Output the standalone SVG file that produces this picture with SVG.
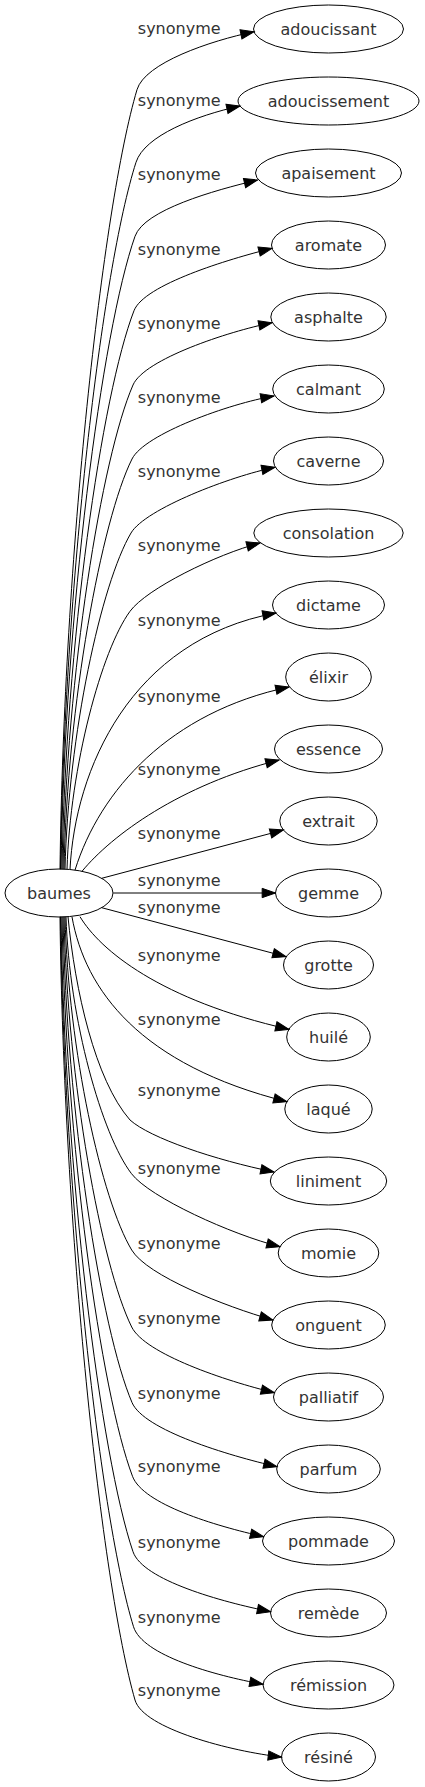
<svg xmlns="http://www.w3.org/2000/svg" width="425" height="1787" viewBox="0 0 425 1787">
<style>
.n ellipse{fill:none;stroke:#000;stroke-width:1}
.n text,.lbl{font-family:"DejaVu Sans",sans-serif;font-size:16px;fill:#333;text-anchor:middle}
.e{fill:none;stroke:#000;stroke-width:1;marker-end:url(#ah)}
</style>
<defs>
<marker id="ah" markerUnits="userSpaceOnUse" markerWidth="16" markerHeight="12" refX="13.33" refY="6" orient="auto" overflow="visible">
<path d="M0,1.33 L13.33,6 L0,10.67 z" fill="#000" stroke="#000" stroke-width="1"/>
</marker>
</defs>
<rect width="425" height="1787" fill="#fff"/>
<g id="connectors">
<path class="e" d="M60,869.2 C63.85,557.4 102.35,206.6 137,89.7 C144.95,62.85 209.96,40.95 254,31.7"/>
<path class="e" d="M60.5,869.2 C64.28,586.4 102.02,268.3 136,162.3 C144.55,135.63 196.05,115.67 240,106"/>
<path class="e" d="M61,869.2 C64.7,616 101.7,331.2 135,236.3 C144.27,209.9 213.74,190.5 257.5,180"/>
<path class="e" d="M62,869.2 C65.6,645.8 101.6,394.5 134,310.7 C144.1,284.6 228.35,259.2 272,248.3"/>
<path class="e" d="M63,869.2 C66.5,675.5 101.5,457.6 133,385 C144.14,359.31 227.87,331.53 272,322.7"/>
<path class="e" d="M64,869.2 C67.4,705.1 101.4,520.5 132,459 C144.47,433.93 229.64,403.54 274,396"/>
<path class="e" d="M65,869.2 C68.3,734.7 101.3,583.4 131,533 C145.2,508.9 230.87,476.13 275,467.3"/>
<path class="e" d="M67,869.2 C70.15,766 101.65,650 130,611.3 C146.55,588.7 216.45,554.32 260,543"/>
<path class="e" d="M70,869.5 C75,770 130,640 276,613"/>
<path class="e" d="M75,870.1 C100,790 170,712 289,687"/>
<path class="e" d="M82,871.3 C112,835 180,785 279,760"/>
<path class="e" d="M101.7,878.3 L283.4,830"/>
<path class="e" d="M113.3,893 L275.5,893"/>
<path class="e" d="M101.7,907.7 L286,956.7"/>
<path class="e" d="M80,916.7 C100,950 160,1000 288.9,1029.3"/>
<path class="e" d="M72,916.9 C85,990 140,1065 286.9,1101.7"/>
<path class="e" d="M68,916.8 C75,990 95,1080 130,1120 C150,1138 215,1160 274,1172"/>
<path class="e" d="M66,916.8 C69.28,1019.56 102.02,1135.16 131.5,1173.7 C149.73,1197.53 231.5,1234.57 280,1246.7"/>
<path class="e" d="M65,916.8 C68.34,1050.08 101.68,1200.02 131.7,1250 C147.15,1275.72 224.81,1306.3 272.9,1320"/>
<path class="e" d="M64,916.8 C67.39,1080.88 101.23,1265.47 131.7,1327 C145.01,1353.89 225.78,1381.03 274.4,1392.7"/>
<path class="e" d="M63,916.8 C66.45,1111.08 100.95,1329.64 132,1402.5 C143.76,1430.1 228.27,1455.49 277,1466.7"/>
<path class="e" d="M62,916.8 C65.53,1140.6 100.77,1392.37 132.5,1476.3 C143.11,1504.36 214.82,1525.72 263.6,1536.7"/>
<path class="e" d="M61,916.8 C64.6,1170.76 100.6,1456.46 133,1551.7 C142.66,1580.1 221.57,1601.89 270.6,1611.7"/>
<path class="e" d="M60.5,916.8 C64.15,1200.76 100.65,1520.21 133.5,1626.7 C142.34,1655.37 213.83,1675.2 263,1684.3"/>
<path class="e" d="M60,916.8 C63.75,1230.08 101.25,1582.52 135,1700 C143.28,1728.83 231.8,1751.53 281.5,1757"/>
<text class="lbl" x="179.2" y="33.7">synonyme</text>
<text class="lbl" x="179.2" y="106.3">synonyme</text>
<text class="lbl" x="179.2" y="180.3">synonyme</text>
<text class="lbl" x="179.2" y="254.7">synonyme</text>
<text class="lbl" x="179.2" y="329">synonyme</text>
<text class="lbl" x="179.2" y="403">synonyme</text>
<text class="lbl" x="179.2" y="477">synonyme</text>
<text class="lbl" x="179.2" y="551.3">synonyme</text>
<text class="lbl" x="179.2" y="626.3">synonyme</text>
<text class="lbl" x="179.2" y="702">synonyme</text>
<text class="lbl" x="179.2" y="775.3">synonyme</text>
<text class="lbl" x="179.2" y="839">synonyme</text>
<text class="lbl" x="179.2" y="885.7">synonyme</text>
<text class="lbl" x="179.2" y="913">synonyme</text>
<text class="lbl" x="179.2" y="961.3">synonyme</text>
<text class="lbl" x="179.2" y="1025.3">synonyme</text>
<text class="lbl" x="179.2" y="1096.3">synonyme</text>
<text class="lbl" x="179.2" y="1173.7">synonyme</text>
<text class="lbl" x="179.2" y="1249">synonyme</text>
<text class="lbl" x="179.2" y="1324">synonyme</text>
<text class="lbl" x="179.2" y="1399">synonyme</text>
<text class="lbl" x="179.2" y="1472.3">synonyme</text>
<text class="lbl" x="179.2" y="1548">synonyme</text>
<text class="lbl" x="179.2" y="1623">synonyme</text>
<text class="lbl" x="179.2" y="1696.3">synonyme</text>
</g>
<g id="baumes" class="n"><ellipse cx="59" cy="893" rx="54" ry="24"/><text x="59" y="898.6">baumes</text></g>
<g id="adoucissant" class="n"><ellipse cx="328.5" cy="29" rx="75" ry="24"/><text x="328.5" y="34.6">adoucissant</text></g>
<g id="adoucissement" class="n"><ellipse cx="328.5" cy="101" rx="90.5" ry="24"/><text x="328.5" y="106.6">adoucissement</text></g>
<g id="apaisement" class="n"><ellipse cx="328.5" cy="173" rx="73" ry="24"/><text x="328.5" y="178.6">apaisement</text></g>
<g id="aromate" class="n"><ellipse cx="328.5" cy="245" rx="57" ry="24"/><text x="328.5" y="250.6">aromate</text></g>
<g id="asphalte" class="n"><ellipse cx="328.5" cy="317" rx="57.7" ry="24"/><text x="328.5" y="322.6">asphalte</text></g>
<g id="calmant" class="n"><ellipse cx="328.5" cy="389" rx="55.8" ry="24"/><text x="328.5" y="394.6">calmant</text></g>
<g id="caverne" class="n"><ellipse cx="328.5" cy="461" rx="55" ry="24"/><text x="328.5" y="466.6">caverne</text></g>
<g id="consolation" class="n"><ellipse cx="328.5" cy="533" rx="74.7" ry="24"/><text x="328.5" y="538.6">consolation</text></g>
<g id="dictame" class="n"><ellipse cx="328.5" cy="605" rx="56" ry="24"/><text x="328.5" y="610.6">dictame</text></g>
<g id="elixir" class="n"><ellipse cx="328.5" cy="677" rx="42.8" ry="24"/><text x="328.5" y="682.6">élixir</text></g>
<g id="essence" class="n"><ellipse cx="328.5" cy="749" rx="54" ry="24"/><text x="328.5" y="754.6">essence</text></g>
<g id="extrait" class="n"><ellipse cx="328.5" cy="821" rx="48.7" ry="24"/><text x="328.5" y="826.6">extrait</text></g>
<g id="gemme" class="n"><ellipse cx="328.5" cy="893" rx="53" ry="24"/><text x="328.5" y="898.6">gemme</text></g>
<g id="grotte" class="n"><ellipse cx="328.5" cy="965" rx="45" ry="24"/><text x="328.5" y="970.6">grotte</text></g>
<g id="huile" class="n"><ellipse cx="328.5" cy="1037" rx="41.8" ry="24"/><text x="328.5" y="1042.6">huilé</text></g>
<g id="laque" class="n"><ellipse cx="328.5" cy="1109" rx="43.7" ry="24"/><text x="328.5" y="1114.6">laqué</text></g>
<g id="liniment" class="n"><ellipse cx="328.5" cy="1181" rx="58.2" ry="24"/><text x="328.5" y="1186.6">liniment</text></g>
<g id="momie" class="n"><ellipse cx="328.5" cy="1253" rx="50.3" ry="24"/><text x="328.5" y="1258.6">momie</text></g>
<g id="onguent" class="n"><ellipse cx="328.5" cy="1325" rx="56.8" ry="24"/><text x="328.5" y="1330.6">onguent</text></g>
<g id="palliatif" class="n"><ellipse cx="328.5" cy="1397" rx="55" ry="24"/><text x="328.5" y="1402.6">palliatif</text></g>
<g id="parfum" class="n"><ellipse cx="328.5" cy="1469" rx="51.8" ry="24"/><text x="328.5" y="1474.6">parfum</text></g>
<g id="pommade" class="n"><ellipse cx="328.5" cy="1541" rx="66" ry="24"/><text x="328.5" y="1546.6">pommade</text></g>
<g id="remede" class="n"><ellipse cx="328.5" cy="1613" rx="58" ry="24"/><text x="328.5" y="1618.6">remède</text></g>
<g id="remission" class="n"><ellipse cx="328.5" cy="1685" rx="65.5" ry="24"/><text x="328.5" y="1690.6">rémission</text></g>
<g id="resine" class="n"><ellipse cx="328.5" cy="1757" rx="47" ry="24"/><text x="328.5" y="1762.6">résiné</text></g>
</svg>
